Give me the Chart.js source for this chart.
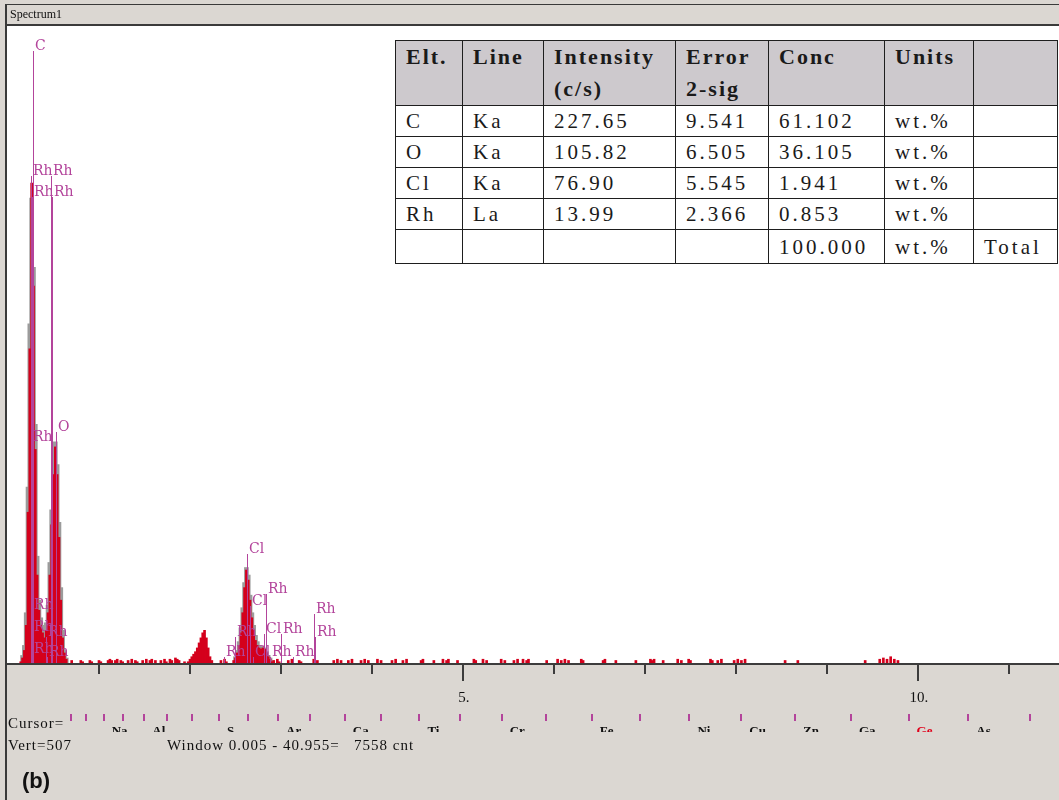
<!DOCTYPE html>
<html>
<head>
<meta charset="utf-8">
<title>Spectrum1</title>
<script src="https://cdn.jsdelivr.net/npm/chart.js@4.4.1/dist/chart.umd.min.js"></script>
<style>
  html, body { margin: 0; padding: 0; background: #dbd7d2; }
  #wrap { position: relative; width: 1059px; height: 800px; overflow: hidden; }
  #quant {
    position: absolute; left: 395px; top: 40px; width: 662px;
    border-collapse: collapse; table-layout: fixed; background: #fff;
    font-family: "Liberation Serif", serif; color: #1a1a1a;
  }
  #quant th, #quant td {
    border: 1px solid #1e1e1e; padding: 0 0 0 10px; text-align: left;
    white-space: nowrap; overflow: hidden;
  }
  #quant th {
    background: #cdc9cd; font-size: 22px; font-weight: bold; letter-spacing: 2px;
    line-height: 32px; vertical-align: top;
  }
  #quant td { font-size: 21px; letter-spacing: 3px; vertical-align: middle; line-height: 24px; }
</style>
</head>
<body>
<div id="wrap">
  <canvas id="spectrumChart"></canvas>
  <table id="quant"></table>
</div>
<script>
(function () {
  "use strict";

  // measured spectrum (keV, counts) - only non-empty channels
  const spectrumKeV = [
    0.14, 0.16, 0.18, 0.20, 0.22, 0.24, 0.26, 0.28, 0.30, 0.32, 0.34, 0.36, 0.38, 0.40,
    0.42, 0.44, 0.46, 0.48, 0.50, 0.52, 0.54, 0.56, 0.58, 0.60, 0.62, 0.64,
    0.70, 0.80, 0.82, 0.90, 0.92, 1.00, 1.02, 1.10, 1.12, 1.14, 1.18, 1.20, 1.24, 1.26,
    1.32, 1.36, 1.40, 1.42, 1.48, 1.52, 1.56, 1.58, 1.62, 1.68, 1.72, 1.74, 1.78, 1.80,
    1.84, 1.86, 1.88, 1.94,
    1.98, 2.00, 2.02, 2.04, 2.06, 2.08, 2.10, 2.12, 2.14, 2.16, 2.18, 2.20, 2.22, 2.24,
    2.34, 2.38, 2.40,
    2.48, 2.50, 2.52, 2.54, 2.56, 2.58, 2.60, 2.62, 2.64, 2.66, 2.68, 2.70, 2.72, 2.74,
    2.76, 2.78, 2.80, 2.82, 2.84, 2.86, 2.88, 2.90,
    2.92, 2.96, 2.98, 3.08, 3.12, 3.20, 3.22, 3.36, 3.40, 3.58, 3.62, 3.66, 3.74, 3.78,
    3.88, 3.92, 3.96, 4.06, 4.10, 4.22, 4.26, 4.34, 4.38, 4.54, 4.56, 4.68, 4.78, 4.82,
    4.84, 4.94, 5.12, 5.14, 5.22, 5.26, 5.42, 5.46, 5.56, 5.60, 5.66, 5.70, 5.72, 5.92,
    6.04, 6.08, 6.12, 6.16, 6.30, 6.32, 6.54, 6.56, 6.68, 6.90, 7.06, 7.08, 7.10, 7.20,
    7.36, 7.40, 7.48, 7.50, 7.72, 7.74, 7.80, 7.84, 7.98, 8.02, 8.06, 8.10, 8.54, 8.68,
    9.42, 9.58, 9.62, 9.66, 9.70, 9.74, 9.78
  ];
  const spectrumCounts = [
    1, 4, 10, 30, 120, 250, 382, 300, 170, 70, 42, 30, 24, 20,
    26, 40, 70, 110, 150, 172, 150, 100, 50, 20, 8, 3,
    2, 2, 1, 2, 1, 2, 1, 2, 3, 2, 2, 3, 2, 1,
    2, 3, 2, 1, 2, 3, 2, 3, 2, 2, 3, 1, 3, 2,
    4, 3, 2, 1,
    1, 3, 5, 7, 9, 12, 16, 20, 24, 26, 20, 12, 5, 2,
    2, 3, 1,
    2, 4, 8, 14, 24, 40, 60, 74, 66, 50, 36, 26, 18, 14,
    12, 11, 12, 11, 8, 5, 3, 1,
    2, 3, 1, 2, 3, 2, 1, 3, 2, 2, 3, 2, 2, 3,
    2, 3, 2, 3, 2, 2, 3, 2, 3, 2, 3, 2, 3, 2,
    3, 2, 3, 2, 3, 2, 3, 2, 2, 3, 3, 2, 3, 2,
    3, 2, 3, 2, 3, 2, 2, 3, 2, 2, 3, 2, 3, 2,
    3, 2, 3, 2, 3, 2, 2, 3, 2, 3, 2, 3, 2, 2,
    2, 3, 4, 3, 5, 3, 2
  ];

  // grey reference spectrum under the main peaks
  const fitKeV = [
    0.16, 0.18, 0.20, 0.22, 0.24, 0.26, 0.28, 0.30, 0.32, 0.34, 0.36, 0.38, 0.40,
    0.42, 0.44, 0.46, 0.48, 0.50, 0.52, 0.54, 0.56, 0.58, 0.60, 0.62, 0.64,
    2.50, 2.52, 2.54, 2.56, 2.58, 2.60, 2.62, 2.64, 2.66, 2.68, 2.70, 2.72, 2.74,
    2.76, 2.78, 2.80, 2.82, 2.84, 2.86, 2.88, 2.90
  ];
  const fitCounts = [
    6, 14, 40, 140, 270, 370, 315, 190, 85, 50, 36, 30, 28,
    32, 46, 80, 122, 160, 176, 158, 112, 60, 26, 10, 4,
    5, 10, 17, 28, 44, 64, 76, 70, 54, 40, 30, 22, 17,
    14, 13, 13, 12, 9, 6, 4, 2
  ];

  // element line markers: label, energy (keV), marker height (counts)
  const markerLabel = ['C', 'Rh', 'Rh', 'Rh', 'Rh', 'Rh', 'O', 'Rh', 'Rh', 'Rh', 'Rh', 'Rh',
    'Cl', 'Rh', 'Cl', 'Rh', 'Cl', 'Rh', 'Rh', 'Rh', 'Rh', 'Cl', 'Rh', 'Rh'];
  const markerKeV = [0.277, 0.253, 0.473, 0.262, 0.482, 0.253, 0.525, 0.262, 0.262, 0.42, 0.262, 0.43,
    2.622, 2.834, 2.66, 2.49, 2.815, 3.001, 3.36, 3.37, 2.377, 2.69, 2.88, 3.13];
  const markerTop = [487, 388, 388, 371, 371, 176, 184, 42, 25, 21, 7, 5,
    87, 55, 45, 21, 23, 23, 39, 21, 5, 5, 5, 5];

  // energy axis
  const axisTickKeV = [1, 2, 3, 4, 5, 6, 7, 8, 9, 10, 11];
  const axisLabelKeV = [5, 10];
  const axisLabelText = ['5.', '10.'];

  // K-line ruler under the axis
  const kLineSymbol = ['F', 'Ne', 'Na', 'Mg', 'Al', 'Si', 'P', 'S', 'Cl', 'Ar', 'K', 'Ca', 'Sc',
    'Ti', 'V', 'Cr', 'Mn', 'Fe', 'Co', 'Ni', 'Cu', 'Zn', 'Ga', 'Ge', 'As', 'Se'];
  const kLineKeV = [0.677, 0.849, 1.041, 1.254, 1.487, 1.740, 2.013, 2.307, 2.622, 2.957, 3.313,
    3.691, 4.090, 4.510, 4.952, 5.414, 5.899, 6.404, 6.930, 7.478, 8.048, 8.639, 9.252, 9.886,
    10.543, 11.222];
  const kLineLabelled = ['Na', 'Al', 'S', 'Ar', 'Ca', 'Ti', 'Cr', 'Fe', 'Ni', 'Cu', 'Zn', 'Ga', 'Ge', 'As'];
  const kLineHighlight = 'Ge';

  // quantification table
  const quantHeader = [['Elt.', ''], ['Line', ''], ['Intensity', '(c/s)'], ['Error', '2-sig'],
    ['Conc', ''], ['Units', ''], ['', '']];
  const quantColWidth = [67, 81, 132, 93, 116, 89, 84];
  const quantElt = ['C', 'O', 'Cl', 'Rh', ''];
  const quantLine = ['Ka', 'Ka', 'Ka', 'La', ''];
  const quantIntensity = ['227.65', '105.82', '76.90', '13.99', ''];
  const quantError = ['9.541', '6.505', '5.545', '2.366', ''];
  const quantConc = ['61.102', '36.105', '1.941', '0.853', '100.000'];
  const quantUnits = ['wt.%', 'wt.%', 'wt.%', 'wt.%', 'wt.%'];
  const quantNote = ['', '', '', '', 'Total'];

  const PANEL = '#dbd7d2';
  const MAGENTA = '#b3449b';
  const SERIF = '"Liberation Serif", serif';

  // Build the table
  function buildTable() {
    const t = document.getElementById('quant');
    let html = '<colgroup>' + quantColWidth.map(w => '<col style="width:' + w + 'px">').join('') + '</colgroup>';
    html += '<tr style="height:65px">' + quantHeader.map(h => '<th>' + h[0] + '<br>' + (h[1] || '&nbsp;') + '</th>').join('') + '</tr>';
    quantElt.forEach((e, i) => {
      const cells = [e, quantLine[i], quantIntensity[i], quantError[i], quantConc[i], quantUnits[i], quantNote[i]];
      html += '<tr style="height:' + (i === quantElt.length - 1 ? 34 : 31) + 'px">' +
        cells.map(c => '<td>' + c + '</td>').join('') + '</tr>';
    });
    t.innerHTML = html;
  }

  // Frame, markers, energy axis and status lines
  const edsDecor = {
    id: 'edsDecor',
    beforeDraw(chart) {
      const { ctx, chartArea: a, width, height } = chart;
      ctx.save();
      ctx.fillStyle = PANEL;
      ctx.fillRect(0, 0, width, height);
      ctx.fillStyle = '#ffffff';
      ctx.fillRect(7, a.top, width - 7, a.bottom - a.top);
      ctx.fillStyle = '#3a3a3a';
      ctx.fillRect(5, 4, width - 5, 1);
      ctx.fillRect(5, a.top - 2, width - 5, 2);
      ctx.fillRect(5, 4, 2, height - 4);
      ctx.fillStyle = '#111';
      ctx.font = '12px ' + SERIF;
      ctx.textBaseline = 'middle';
      ctx.fillText('Spectrum1', 10, 15);
      ctx.restore();
    },
    afterDatasetsDraw(chart) {
      const { ctx, chartArea: a, width } = chart;
      const xs = chart.scales.x;
      const ys = chart.scales.y;
      ctx.save();

      // element markers
      ctx.fillStyle = MAGENTA;
      ctx.font = '14px "DejaVu Serif"';
      ctx.textBaseline = 'bottom';
      ctx.textAlign = 'left';
      markerKeV.forEach((e, i) => {
        const x = Math.round(xs.getPixelForValue(e));
        const y = Math.round(ys.getPixelForValue(markerTop[i]));
        ctx.fillRect(x, y, 1, a.bottom - y);
        ctx.fillText(markerLabel[i], x + 2, y + 2);
      });

      // energy axis
      ctx.fillStyle = '#3c3c3c';
      ctx.fillRect(7, a.bottom, width - 7, 2);
      axisTickKeV.forEach(k => {
        const x = Math.round(xs.getPixelForValue(k));
        ctx.fillRect(x - 1, a.bottom, 2, axisLabelKeV.includes(k) ? 18 : 11);
      });
      ctx.fillStyle = '#111';
      ctx.font = '15px ' + SERIF;
      ctx.textAlign = 'center';
      ctx.textBaseline = 'middle';
      axisLabelKeV.forEach((k, i) => ctx.fillText(axisLabelText[i], xs.getPixelForValue(k) + 1, 698));

      // K-line ruler (symbol row is cut off half-way, as on the instrument screen)
      ctx.fillStyle = MAGENTA;
      kLineKeV.forEach(e => {
        ctx.fillRect(Math.round(xs.getPixelForValue(e)), 714, 2, 7);
      });
      ctx.save();
      ctx.beginPath();
      ctx.rect(0, 724, width, 8);
      ctx.clip();
      ctx.font = 'bold 13px ' + SERIF;
      ctx.textAlign = 'left';
      ctx.textBaseline = 'top';
      kLineLabelled.forEach(s => {
        const e = kLineKeV[kLineSymbol.indexOf(s)];
        ctx.fillStyle = s === kLineHighlight ? '#e0001a' : '#111';
        ctx.fillText(s, xs.getPixelForValue(e) + 9, 725);
      });
      ctx.restore();

      // status lines
      ctx.fillStyle = '#111';
      ctx.textAlign = 'left';
      ctx.textBaseline = 'middle';
      ctx.font = '15px ' + SERIF;
      ctx.letterSpacing = '1px';
      ctx.fillText('Cursor=', 8, 724);
      ctx.fillText('Vert=507', 8, 746);
      ctx.fillText('Window 0.005 - 40.955=   7558 cnt', 167, 746);
      ctx.letterSpacing = '0px';
      ctx.font = 'bold 22px "Liberation Sans", Arial, sans-serif';
      ctx.fillText('(b)', 22, 782);
      ctx.restore();
    }
  };

  function renderSpectrum(el) {
    if (!el) return;
    new Chart(el, {
      type: 'bar',
      data: {
        datasets: [
          {
            label: 'Spectrum',
            data: spectrumKeV.map((e, i) => ({ x: e, y: spectrumCounts[i] })),
            backgroundColor: '#d4001c',
            borderWidth: 0,
            barThickness: 2,
            grouped: false,
            order: 0
          },
          {
            label: 'Reference',
            data: fitKeV.map((e, i) => ({ x: e, y: fitCounts[i] })),
            backgroundColor: '#9b9b9b',
            borderWidth: 0,
            barThickness: 4,
            grouped: false,
            order: 1
          }
        ]
      },
      options: {
        responsive: true,
        maintainAspectRatio: false,
        animation: false,
        layout: { padding: { left: 8, top: 26, right: 0, bottom: 137 } },
        plugins: {
          legend: { display: false },
          tooltip: { enabled: false }
        },
        scales: {
          x: { type: 'linear', min: 0, max: 11.55, offset: false, grid: { offset: false }, display: false },
          y: { min: 0, max: 507, display: false }
        }
      },
      plugins: [edsDecor]
    });
  }

  document.addEventListener('DOMContentLoaded', function () {
    buildTable();
    renderSpectrum(document.getElementById('spectrumChart'));
  });
})();
</script>
</body>
</html>
